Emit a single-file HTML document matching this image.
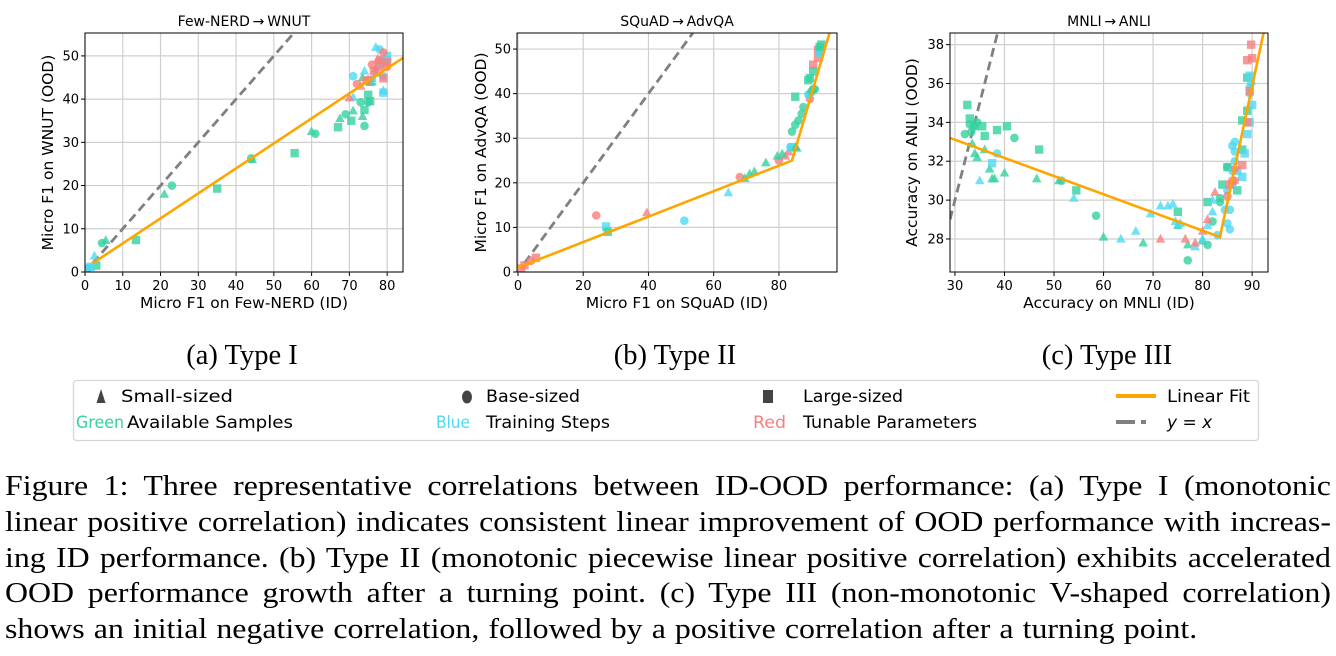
<!DOCTYPE html>
<html><head><meta charset="utf-8">
<style>
body{margin:0;width:1336px;height:656px;background:#fff;overflow:hidden;position:relative;font-family:"DejaVu Sans",sans-serif}
#cap{position:absolute;left:5px;top:469px;width:1186px;font-family:"Liberation Serif",serif;font-size:28.5px;line-height:35.8px;color:#000;transform:scaleX(1.118);transform-origin:0 0;word-spacing:-1.5px}
#cap div{text-align:justify;text-align-last:justify;white-space:nowrap}
#cap div.last{text-align-last:left;word-spacing:1px}
</style></head>
<body>
<svg id="fig" width="1336" height="460" style="position:absolute;left:0;top:0" font-family="DejaVu Sans, sans-serif"></svg>
<div id="cap">
<div>Figure 1: Three representative correlations between ID-OOD performance: (a) Type I (monotonic</div>
<div>linear positive correlation) indicates consistent linear improvement of OOD performance with increas-</div>
<div>ing ID performance. (b) Type II (monotonic piecewise linear positive correlation) exhibits accelerated</div>
<div>OOD performance growth after a turning point. (c) Type III (non-monotonic V-shaped correlation)</div>
<div class="last">shows an initial negative correlation, followed by a positive correlation after a turning point.</div>
</div>
<script>
const NS="http://www.w3.org/2000/svg";
const svg=document.getElementById('fig');
const COL={g:'#36d1a0',b:'#4fd8f2',r:'#f77e7e'};
// Chart A data: [x, y, shape, color]
const ptsA=[[4.5,6.7,'c','g'],[5.5,7.3,'t','g'],[13.5,7.4,'s','g'],[21,18,'t','g'],[23,20,'c','g'],[35,19.3,'s','g'],[44,26.3,'c','g'],[44.3,26,'t','g'],[55.5,27.5,'s','g'],[60,32.5,'t','g'],[61,32,'c','g'],[67,33.5,'s','g'],[67.5,35.5,'t','g'],[69,36.5,'c','g'],[70.5,35,'s','g'],[71,37.3,'t','g'],[73,39.3,'c','g'],[73.5,36,'t','g'],[74,33.8,'c','g'],[74,37.5,'s','g'],[75,41,'s','g'],[75,39.3,'c','g'],[75.5,39.5,'s','g'],[76,44,'t','g'],[3,1.5,'s','g'],[1,1,'c','g'],[73.5,45,'t','g'],[75.5,44,'s','g'],
[1,1,'c','b'],[1.5,1.2,'s','b'],[2.5,3.7,'t','b'],[71,45.3,'c','b'],[71,40.4,'t','b'],[74,46.5,'t','b'],[77,52,'t','b'],[78,51.5,'c','b'],[79,49,'c','b'],[79,42,'t','b'],[79,41.5,'s','b'],[79,45.3,'c','b'],[80,50,'s','b'],[80,49,'c','b'],[78,48,'s','b'],[76,44.5,'c','b'],[77,46,'t','b'],
[70,40.3,'t','r'],[72,43.5,'c','r'],[73,43,'t','r'],[74.5,44.3,'s','r'],[75,44.5,'c','r'],[76,48,'c','r'],[76.5,46.5,'s','r'],[77,47,'t','r'],[78,49,'c','r'],[78,47.5,'s','r'],[79,50.8,'c','r'],[79,44.8,'s','r'],[80,48.5,'s','r'],[77.5,49.3,'t','r'],[80,47.5,'c','r']];
const fitA=[[2,2],[85,50]];
const xTicksA=[0,10,20,30,40,50,60,70,80], yTicksA=[0,10,20,30,40,50];
// Chart B data
const ptsB=[[1,0.8,'s','r'],[2,1.5,'s','r'],[4,2.5,'c','r'],[5.5,3.2,'s','r'],[24,12.7,'c','r'],[39.5,13.3,'t','r'],[68,21.3,'c','r'],[80,25,'c','r'],[82,26,'t','r'],[83,27,'t','r'],[89.5,38.8,'c','r'],[90.5,46.5,'s','r'],[92,48,'s','r'],[92,49.8,'s','r'],
[27,10.2,'s','b'],[51,11.5,'c','b'],[64.5,17.8,'t','b'],[84,28,'s','b'],[83.5,28,'c','b'],[89,39.8,'c','b'],[89.5,40,'c','b'],[92.5,49,'s','b'],[92.5,50,'s','b'],
[27.5,9,'s','g'],[69.5,21,'t','g'],[71,22,'t','g'],[72.5,22.5,'t','g'],[76,24.5,'t','g'],[79.5,26,'t','g'],[81,26.5,'t','g'],[85,28,'t','g'],[85.5,27.8,'t','g'],[84,31.5,'c','g'],[85,33,'c','g'],[86,34,'c','g'],[87,35.5,'c','g'],[87.5,37,'c','g'],[85,39.3,'s','g'],[89,43,'s','g'],[89.5,43.5,'s','g'],[90.5,45,'s','g'],[90.5,41,'c','g'],[91,41,'c','g'],[90,40.5,'c','g'],[93,51,'s','g'],[92.5,50.5,'s','g']];
const fitB=[[0,1],[84,25],[95.5,53.6]];
const xTicksB=[0,20,40,60,80], yTicksB=[0,10,20,30,40,50];
// Chart C data
const ptsC=[[32,33.4,'c','g'],[32.5,34.9,'s','g'],[33,34.2,'s','g'],[33,33.9,'c','g'],[33.3,33.5,'c','g'],[33.8,33.8,'c','g'],[34,33.8,'s','g'],[34.5,34,'c','g'],[35.5,33.8,'s','g'],[36,33.3,'s','g'],[38.5,33.6,'s','g'],[40.5,33.8,'s','g'],[42,33.2,'c','g'],[47,32.6,'s','g'],[33.5,32.9,'t','g'],[34,32.4,'t','g'],[34.5,32.2,'t','g'],[36,32.6,'t','g'],[37,31.6,'t','g'],[37.5,31.1,'t','g'],[38,31.1,'t','g'],[40,31.4,'t','g'],[46.5,31.1,'t','g'],[51,31,'t','g'],[51.5,31,'c','g'],[54.5,30.5,'s','g'],[58.5,29.2,'c','g'],[60,28.1,'t','g'],[68,27.8,'t','g'],[75,29.4,'s','g'],[75,28.7,'t','g'],[77,26.9,'c','g'],[77,27.7,'t','g'],[80,27.9,'t','g'],[81,27.7,'c','g'],[81,29.9,'s','g'],[82,28.9,'c','g'],[83.5,30.1,'c','g'],[83.5,29.9,'c','g'],[84,30.8,'s','g'],[85,31.7,'c','g'],[85,31.7,'s','g'],[87,30.5,'s','g'],[88,32.6,'s','g'],[88,34.1,'s','g'],[89,34.6,'s','g'],[89,36.3,'s','g'],
[35,31,'t','b'],[37.5,31.9,'s','b'],[38.5,32.4,'c','b'],[54,30.1,'t','b'],[63.5,28,'t','b'],[66.5,28.4,'t','b'],[69.5,29.3,'t','b'],[71.5,29.7,'t','b'],[73,29.7,'t','b'],[74,29.8,'t','b'],[74.5,28.9,'t','b'],[75.5,28.8,'t','b'],[78.5,27.6,'t','b'],[80,28,'t','b'],[81,28.7,'t','b'],[82,29.4,'t','b'],[82,30,'t','b'],[83,28.2,'c','b'],[84.5,29.5,'c','b'],[85,28.8,'c','b'],[85.5,28.5,'c','b'],[85.5,29.5,'c','b'],[85,30.5,'c','b'],[86,30.8,'c','b'],[86,31.5,'c','b'],[86,32.8,'c','b'],[86.5,33,'c','b'],[86.5,32.5,'c','b'],[86.5,32,'c','b'],[87,31.5,'s','b'],[88,31.2,'s','b'],[88.5,32.4,'s','b'],[89,33.4,'s','b'],[89.5,34,'s','b'],[89.5,35.8,'c','b'],[89.5,36.4,'s','b'],[89.8,36,'c','b'],[90,34.9,'s','b'],[89.5,35.5,'c','b'],
[71.5,28,'t','r'],[76.5,28,'t','r'],[78.5,27.8,'t','r'],[80,28.4,'t','r'],[81,29,'t','r'],[82.5,30.4,'t','r'],[85,30.2,'c','r'],[85.5,30.8,'s','r'],[86,31,'c','r'],[86.5,31,'c','r'],[86.5,31.6,'c','r'],[88,31.8,'s','r'],[89,34,'s','r'],[89.5,35.6,'s','r'],[89,37.2,'s','r'],[90,37.3,'s','r'],[89.8,38,'s','r']];
const fitC=[[29,33.2],[83.5,28.1],[92.3,38.6]];
const xTicksC=[30,40,50,60,70,80,90], yTicksC=[28,30,32,34,36,38];

function el(tag,attrs,parent){const e=document.createElementNS(NS,tag);for(const k in attrs)e.setAttribute(k,attrs[k]);(parent||svg).appendChild(e);return e;}
function txt(s,attrs,parent){const t=el('text',attrs,parent);t.textContent=s;return t;}

function chart(cfg){
  const g=el('g',{});
  
  
  const X=v=>cfg.px[0]+(v-cfg.xr[0])/(cfg.xr[1]-cfg.xr[0])*(cfg.px[1]-cfg.px[0]);
  const Y=v=>cfg.py[1]-(v-cfg.yr[0])/(cfg.yr[1]-cfg.yr[0])*(cfg.py[1]-cfg.py[0]);
  const cid='clip'+cfg.name;
  const cp=el('clipPath',{id:cid},g);el('rect',{x:cfg.px[0],y:cfg.py[0],width:cfg.px[1]-cfg.px[0],height:cfg.py[1]-cfg.py[0]},cp);
  cfg.xt.forEach(v=>{
    const gl=el('line',{x1:X(v),x2:X(v),y1:cfg.py[0],y2:cfg.py[1],stroke:'#cfcfcf','stroke-width':1.2},g);
    
    el('line',{x1:X(v),x2:X(v),y1:cfg.py[1],y2:cfg.py[1]+4,stroke:'#000'},g);
    const t=txt(String(v),{x:X(v),y:cfg.py[1]+18,'font-size':13,'text-anchor':'middle'},g);
    
  });
  cfg.yt.forEach(v=>{
    const gl=el('line',{x1:cfg.px[0],x2:cfg.px[1],y1:Y(v),y2:Y(v),stroke:'#cfcfcf','stroke-width':1.2},g);
    
    el('line',{x1:cfg.px[0]-4,x2:cfg.px[0],y1:Y(v),y2:Y(v),stroke:'#000'},g);
    const t=txt(String(v),{x:cfg.px[0]-6,y:Y(v)+4.5,'font-size':13,'text-anchor':'end'},g);
    
  });
  const pg=el('g',{'clip-path':'url(#'+cid+')'},g);
  const lo=Math.max(cfg.xr[0],cfg.yr[0]),hi=Math.min(cfg.xr[1],cfg.yr[1]);
  const yx=el('line',{x1:X(lo+cfg.yxStart),y1:Y(lo+cfg.yxStart),x2:X(hi),y2:Y(hi),stroke:'#808080','stroke-width':2.8,'stroke-dasharray':'9,5'},pg);
  
  cfg.pts.forEach(p=>{
    const x=X(p[0]),y=Y(p[1]),c=COL[p[3]];let m;
    if(p[2]==='c')m=el('circle',{cx:x,cy:y,r:4.3,fill:c,'fill-opacity':0.8},pg);
    else if(p[2]==='s')m=el('rect',{x:x-4.2,y:y-4.2,width:8.4,height:8.4,fill:c,'fill-opacity':0.8},pg);
    else m=el('polygon',{points:`${x},${y-5.2} ${x-4.8},${y+3.6} ${x+4.8},${y+3.6}`,fill:c,'fill-opacity':0.8},pg);
    
    
  });
  const fl=el('polyline',{points:cfg.fit.map(p=>X(p[0])+','+Y(p[1])).join(' '),fill:'none',stroke:'#ffa500','stroke-width':2.6},pg);
  
  const fr=el('rect',{x:cfg.px[0],y:cfg.py[0],width:cfg.px[1]-cfg.px[0],height:cfg.py[1]-cfg.py[0],fill:'none',stroke:'#000','stroke-width':1},g);
  
  const cx=(cfg.px[0]+cfg.px[1])/2;
  const tt=txt(cfg.title,{x:cx,y:26,'font-size':14,'text-anchor':'middle'},g);
  
  const xl=txt(cfg.xl,{x:cx,y:cfg.py[1]+36,'font-size':15.5,'text-anchor':'middle'},g);
  
  const ym=(cfg.py[0]+cfg.py[1])/2;
  const yl=txt(cfg.yl,{x:cfg.ylx,y:ym,'font-size':15.5,'text-anchor':'middle',transform:`rotate(-90 ${cfg.ylx} ${ym})`},g);
  
  const st=txt(cfg.sub,{x:cx-2,y:364,'font-size':28.5,'font-family':'Liberation Serif, serif','text-anchor':'middle'},g);
  
}
chart({name:'chart-type-1',px:[85,403],py:[33,272],xr:[0,84.2],yr:[0,55.3],xt:xTicksA,yt:yTicksA,pts:ptsA,fit:fitA,yxStart:2,title:'Few-NERD\u2009\u2192\u2009WNUT',xl:'Micro F1 on Few-NERD (ID)',yl:'Micro F1 on WNUT (OOD)',ylx:53,sub:'(a) Type I'});
chart({name:'chart-type-2',px:[517,837],py:[33,272],xr:[-0.3,97.8],yr:[0,53.6],xt:xTicksB,yt:yTicksB,pts:ptsB,fit:fitB,yxStart:2,title:'SQuAD\u2009\u2192\u2009AdvQA',xl:'Micro F1 on SQuAD (ID)',yl:'Micro F1 on AdvQA (OOD)',ylx:486,sub:'(b) Type II'});
chart({name:'chart-type-3',px:[950,1268],py:[33,272],xr:[29,93.2],yr:[26.3,38.6],xt:xTicksC,yt:yTicksC,pts:ptsC,fit:fitC,yxStart:0,title:'MNLI\u2009\u2192\u2009ANLI',xl:'Accuracy on MNLI (ID)',yl:'Accuracy on ANLI (OOD)',ylx:917,sub:'(c) Type III'});

// legend
const lg=el('g',{});


el('rect',{x:73.5,y:380.5,width:1185,height:60,rx:3,fill:'#fff',stroke:'#d6d6d6','stroke-width':1.3},lg);
el('polygon',{points:'101,389 96.5,403 105.5,403',fill:'#444'},lg);
el('ellipse',{cx:467,cy:397,rx:5,ry:6.5,fill:'#444'},lg);
el('rect',{x:763,y:390,width:10,height:13,fill:'#444'},lg);
el('line',{x1:1116,x2:1156,y1:396,y2:396,stroke:'#ffa500','stroke-width':4},lg);
el('line',{x1:1116,x2:1135,y1:422,y2:422,stroke:'#808080','stroke-width':4},lg);
el('line',{x1:1141,x2:1146,y1:422,y2:422,stroke:'#808080','stroke-width':4},lg);
const L=[['Small-sized',121,402,'#000',112],['Base-sized',486,402,'#000',94],['Large-sized',803,402,'#000',100],['Linear Fit',1167,402,'#000',83],
['Green',76,428,'#36d1a0',48],['Available Samples',127,428,'#000',166],['Blue',436,428,'#4fd8f2',34],['Training Steps',486,428,'#000',124],['Red',753,428,'#f77e7e',33],['Tunable Parameters',803,428,'#000',174]];
L.forEach(l=>{const t=txt(l[0],{x:l[1],y:l[2],'font-size':17,fill:l[3],textLength:l[4],lengthAdjust:'spacingAndGlyphs'},lg);});
const yxl=txt('',{x:1167,y:428,'font-size':17},lg);
yxl.innerHTML='<tspan font-style="italic">y</tspan> = <tspan font-style="italic">x</tspan>';


</script>
</body></html>
